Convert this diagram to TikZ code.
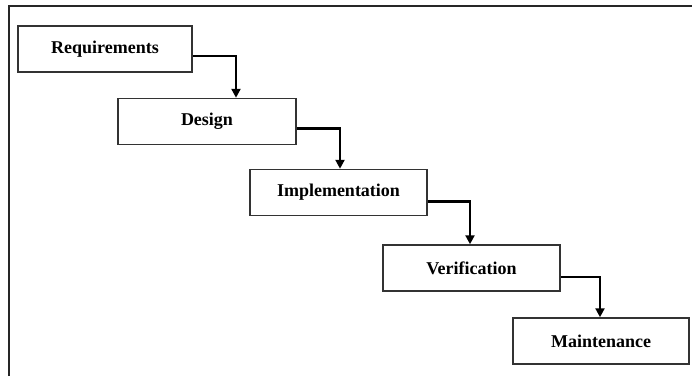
\documentclass[tikz,border=0pt]{standalone}
\usepackage{fontspec}
\setmainfont{Liberation Serif}
\usetikzlibrary{arrows.meta}
\begin{document}
\begin{tikzpicture}[x=1pt,y=1pt,
  stage/.style={draw=black!80, line width=1.5pt, minimum height=46pt, inner sep=0pt,
    font=\fontsize{18}{21}\selectfont\bfseries},
  flow/.style={draw=black, line width=2.3pt, -{Triangle[length=9pt,width=9pt]}}]
\useasboundingbox (0,0) rectangle (692,376);
\fill[white] (0,0) rectangle (692,376);
\draw[line width=1.5pt, black!85] (9,0) -- (9,370) -- (692,370);
\node[stage, minimum width=174pt] (req) at (105,327) {Requirements};
\node[stage, minimum width=178pt] (des) at (207,254.5) {Design};
\node[stage, minimum width=177pt] (imp) at (338.5,183.5) {Implementation};
\node[stage, minimum width=177pt] (ver) at (471.5,108) {Verification};
\node[stage, minimum width=176pt] (mai) at (601,35) {Maintenance};
\draw[flow] ([yshift=-7pt]req.east) -| ([xshift=29pt]des.north);
\draw[flow] ([yshift=-7pt]des.east) -| ([xshift=1.5pt]imp.north);
\draw[flow] ([yshift=-9pt]imp.east) -| ([xshift=-1.5pt]ver.north);
\draw[flow] ([yshift=-9pt]ver.east) -| ([xshift=-1pt]mai.north);
\end{tikzpicture}
\end{document}
